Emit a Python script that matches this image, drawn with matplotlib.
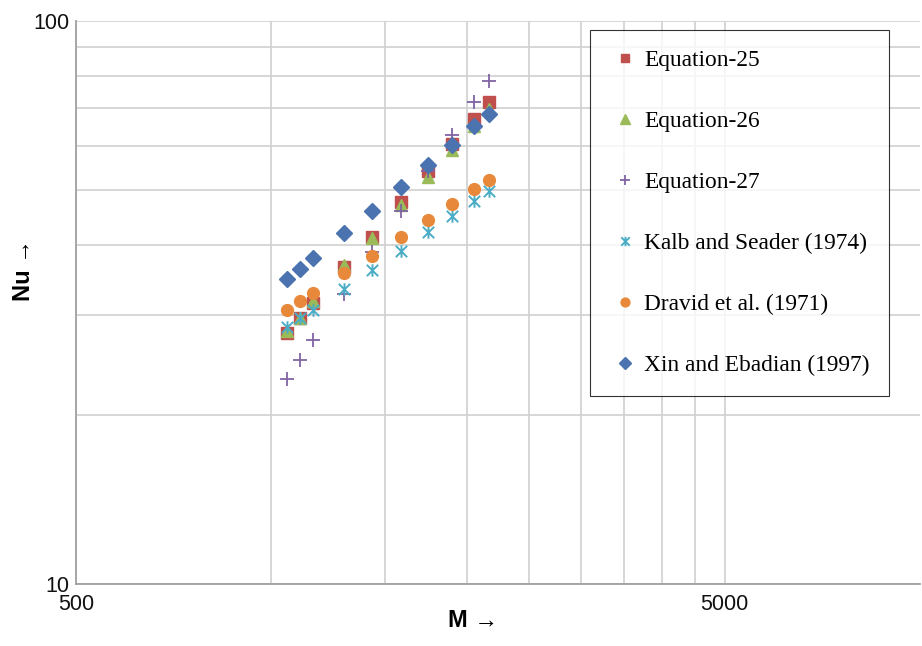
import matplotlib
matplotlib.use("Agg")
import matplotlib.pyplot as plt
from matplotlib.path import Path
from matplotlib.ticker import FixedLocator, NullFormatter

# M values (same for all series)
M = [1057, 1107, 1158, 1296, 1428, 1586, 1743, 1902, 2057, 2166]

eq25 = [27.9, 29.7, 31.6, 36.5, 41.4, 47.6, 54.2, 60.4, 66.9, 71.8]
eq26 = [28.1, 29.7, 31.8, 36.8, 41.2, 47.1, 52.9, 59.0, 65.1, 69.7]
eq27 = [23.1, 25.0, 27.1, 32.7, 38.8, 46.0, 54.2, 62.7, 71.7, 78.1]
kalb = [28.6, 29.7, 30.7, 33.4, 36.1, 39.1, 42.2, 45.0, 47.9, 49.9]
dravid = [30.7, 31.8, 32.9, 35.7, 38.3, 41.4, 44.4, 47.4, 50.2, 52.2]
xin = [34.8, 36.3, 37.9, 42.0, 46.0, 50.7, 55.4, 60.2, 65.1, 68.4]

labels = ["Equation-25", "Equation-26", "Equation-27",
          "Kalb and Seader (1974)", "Dravid et al. (1971)", "Xin and Ebadian (1997)"]

# excel style star: an x with a vertical bar through it
star = Path([(-1, -1), (1, 1), (-1, 1), (1, -1), (0, -1.1), (0, 1.1)],
            [Path.MOVETO, Path.LINETO, Path.MOVETO, Path.LINETO, Path.MOVETO, Path.LINETO])

fig = plt.figure(figsize=(9.22, 6.46), dpi=100)
ax = fig.add_axes([0.0824, 0.096, 0.9154, 0.8715])

ax.plot(M, eq25, 's', color='#C0504D', ms=8.3, label=labels[0], ls='none')
ax.plot(M, eq26, '^', color='#9BBB59', ms=9, label=labels[1], ls='none')
ax.plot(M, eq27, '+', color='#8064A2', ms=10, mew=1.3, label=labels[2], ls='none')
ax.plot(M, kalb, marker=star, color='#4BACC6', mfc='none', ms=9, mew=1.4,
        label=labels[3], ls='none')
ax.plot(M, dravid, 'o', color='#E8883A', ms=8.5, label=labels[4], ls='none')
ax.plot(M, xin, 'D', color='#4A73B0', ms=8.5, label=labels[5], ls='none')

ax.set_xscale('log')
ax.set_yscale('log')
ax.set_xlim(500, 10000)
ax.set_ylim(10, 100)

ax.xaxis.set_major_locator(FixedLocator([500, 5000]))
ax.xaxis.set_minor_locator(FixedLocator([1000, 1500, 2000, 2500, 3000, 3500, 4000, 4500]))
ax.yaxis.set_major_locator(FixedLocator([10, 100]))
ax.yaxis.set_minor_locator(FixedLocator([20, 30, 40, 50, 60, 70, 80, 90]))
ax.set_xticklabels(['500', '5000'])
ax.set_yticklabels(['10', '100'])
ax.xaxis.set_minor_formatter(NullFormatter())
ax.yaxis.set_minor_formatter(NullFormatter())
ax.tick_params(which='both', length=0, labelsize=15.5)
ax.tick_params(axis='x', pad=7)
ax.tick_params(axis='y', pad=5)
for t in ax.get_xticklabels() + ax.get_yticklabels():
    t.set_family('Liberation Sans')
    t.set_color('#111111')

ax.grid(True, which='both', color='#d0d0d0', lw=1.2)
ax.set_axisbelow(True)
for s in ['top', 'right']:
    ax.spines[s].set_visible(False)
for s in ['left', 'bottom']:
    ax.spines[s].set_color('#a0a0a0')
    ax.spines[s].set_linewidth(1.3)

fig.text(0.513, 0.022, 'M \u2192', fontsize=17, fontweight='bold',
         family='Liberation Sans', ha='center', va='bottom')
fig.text(0.025, 0.582, 'Nu \u2192', fontsize=17, fontweight='bold',
         family='Liberation Sans', ha='center', va='center', rotation=90)

leg = ax.legend(loc='upper left', bbox_to_anchor=(0.6094, 0.9837),
                prop={'family': 'Liberation Serif', 'size': 16.8},
                frameon=True, fancybox=False, edgecolor='black',
                labelspacing=1.7, handlelength=1.3, handletextpad=0.15,
                borderpad=0.85, borderaxespad=0, markerscale=0.75)
leg.get_frame().set_linewidth(0.8)

fig.savefig('out.png', dpi=100)
